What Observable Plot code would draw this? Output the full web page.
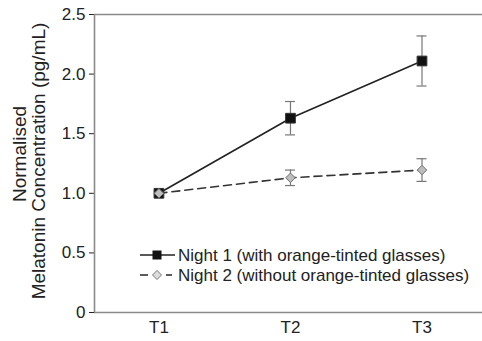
<!DOCTYPE html>
<html>
<head>
<meta charset="utf-8">
<script src="https://cdn.jsdelivr.net/npm/d3@7"></script>
<script src="https://cdn.jsdelivr.net/npm/@observablehq/plot@0.6"></script>
<style>
  html, body { margin: 0; padding: 0; background: #fff; }
  #chart { position: relative; width: 482px; height: 341px; }
  svg { font-family: "Liberation Sans", Arial, Helvetica, sans-serif; }
</style>
</head>
<body>
<div id="chart"></div>
<script>
const timepoints = ["T1", "T2", "T3"];
const night1Mean = [1.00, 1.63, 2.11];
const night1Err  = [0.00, 0.14, 0.21];
const night2Mean = [1.00, 1.13, 1.195];
const night2Err  = [0.00, 0.065, 0.095];
const yTicks = [0, 0.5, 1.0, 1.5, 2.0, 2.5];
const seriesNames = ["Night 1 (with orange-tinted glasses)", "Night 2 (without orange-tinted glasses)"];
const yLabel = ["Normalised", "Melatonin Concentration (pg/mL)"];

const n1 = timepoints.map((t, i) => ({t: i + 1, y: night1Mean[i], lo: night1Mean[i] - night1Err[i], hi: night1Mean[i] + night1Err[i], e: night1Err[i]}));
const n2 = timepoints.map((t, i) => ({t: i + 1, y: night2Mean[i], lo: night2Mean[i] - night2Err[i], hi: night2Mean[i] + night2Err[i], e: night2Err[i]}));
const xDomain = [0.51, 3.46];
const cap = 0.038;
const axisColor = "#8a8a8a";
const errColor = "#777";

const diamond = {
  draw(context, size) {
    const h = Math.sqrt(size / 2);
    context.moveTo(0, -h); context.lineTo(h, 0); context.lineTo(0, h); context.lineTo(-h, 0); context.closePath();
  }
};

const plot = Plot.plot({
  width: 482,
  height: 341,
  marginLeft: 94,
  marginRight: 0,
  marginTop: 14,
  marginBottom: 29,
  style: {fontSize: "17px", fontFamily: "Liberation Sans, Arial, Helvetica, sans-serif", color: "#222", background: "#fff"},
  x: {domain: xDomain, ticks: [1, 2, 3], tickFormat: d => timepoints[d - 1], tickSize: 0, tickPadding: 8, label: null},
  y: {domain: [0, 2.5], ticks: yTicks, tickFormat: d => d === 0 ? "0" : d.toFixed(1), tickSize: 5, tickPadding: 4, label: null},
  marks: [
    Plot.ruleY([0, 2.5], {stroke: axisColor, strokeWidth: 1.6}),
    Plot.ruleX([xDomain[0]], {stroke: axisColor, strokeWidth: 1.6}),
    // error bars
    Plot.ruleX(n1.filter(d => d.e > 0), {x: "t", y1: "lo", y2: "hi", stroke: errColor, strokeWidth: 1.2}),
    Plot.ruleY(n1.filter(d => d.e > 0), {y: "lo", x1: d => d.t - cap, x2: d => d.t + cap, stroke: errColor, strokeWidth: 1.2}),
    Plot.ruleY(n1.filter(d => d.e > 0), {y: "hi", x1: d => d.t - cap, x2: d => d.t + cap, stroke: errColor, strokeWidth: 1.2}),
    Plot.ruleX(n2.filter(d => d.e > 0), {x: "t", y1: "lo", y2: "hi", stroke: errColor, strokeWidth: 1.2}),
    Plot.ruleY(n2.filter(d => d.e > 0), {y: "lo", x1: d => d.t - cap, x2: d => d.t + cap, stroke: errColor, strokeWidth: 1.2}),
    Plot.ruleY(n2.filter(d => d.e > 0), {y: "hi", x1: d => d.t - cap, x2: d => d.t + cap, stroke: errColor, strokeWidth: 1.2}),
    // lines
    Plot.line(n1, {x: "t", y: "y", stroke: "#222", strokeWidth: 1.6}),
    Plot.line(n2, {x: "t", y: "y", stroke: "#333", strokeWidth: 1.6, strokeDasharray: "8,5"}),
    // markers
    Plot.dot(n1, {x: "t", y: "y", symbol: "square", r: 5.5, fill: "#111", stroke: "#333", strokeWidth: 1}),
    Plot.dot(n2, {x: "t", y: "y", symbol: diamond, r: 3.8, fill: "#bdbdbd", stroke: "#6f6f6f", strokeWidth: 1})
  ]
});

const chart = document.getElementById("chart");
chart.appendChild(plot);

const svg = d3.select(plot);
// Y axis label (two lines, rotated)
svg.append("text")
  .attr("transform", `translate(19,154) rotate(-90)`)
  .attr("text-anchor", "middle").attr("dominant-baseline", "central")
  .attr("font-size", 19).attr("fill", "#222").text(yLabel[0]);
svg.append("text")
  .attr("transform", `translate(38,161) rotate(-90)`)
  .attr("text-anchor", "middle").attr("dominant-baseline", "central")
  .attr("font-size", 19).attr("fill", "#222").text(yLabel[1]);

// Legend
const lg = svg.append("g").attr("font-size", 17).attr("fill", "#222").attr("text-anchor", "start");
const rows = [255, 275];
// row 1
lg.append("line").attr("x1", 140).attr("x2", 175).attr("y1", rows[0]).attr("y2", rows[0]).attr("stroke", "#222").attr("stroke-width", 1.6);
lg.append("rect").attr("x", 157 - 4.5).attr("y", rows[0] - 4.5).attr("width", 9).attr("height", 9).attr("fill", "#111");
lg.append("text").attr("x", 178).attr("y", rows[0]).attr("dominant-baseline", "central").text(seriesNames[0]);
// row 2
lg.append("line").attr("x1", 140).attr("x2", 148).attr("y1", rows[1]).attr("y2", rows[1]).attr("stroke", "#333").attr("stroke-width", 1.6);
lg.append("line").attr("x1", 166).attr("x2", 172).attr("y1", rows[1]).attr("y2", rows[1]).attr("stroke", "#333").attr("stroke-width", 1.6);
lg.append("path").attr("d", `M157,${rows[1] - 4.5}L161.5,${rows[1]}L157,${rows[1] + 4.5}L152.5,${rows[1]}Z`).attr("fill", "#ddd").attr("stroke", "#777").attr("stroke-width", 1);
lg.append("text").attr("x", 178).attr("y", rows[1]).attr("dominant-baseline", "central").text(seriesNames[1]);
</script>
</body>
</html>
